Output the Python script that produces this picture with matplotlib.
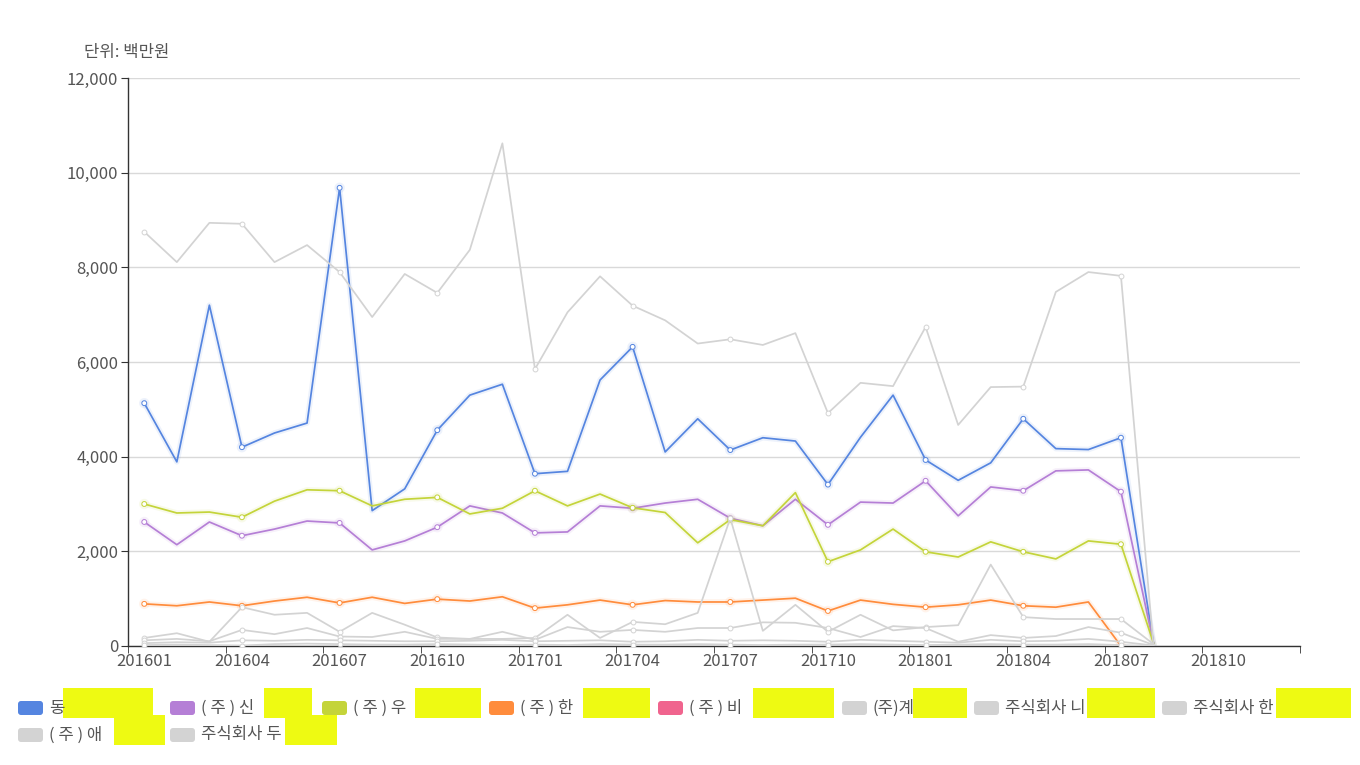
import numpy as np
import matplotlib.pyplot as plt
import matplotlib.patheffects as pe
from matplotlib.patches import FancyBboxPatch, Rectangle

plt.rcParams["font.family"] = ["Noto Sans CJK KR", "DejaVu Sans"]

# months shown on the category axis
months = [f"{y}{m:02d}" for y in (2016, 2017, 2018) for m in range(1, 13)]

names = ["동", "( 주 ) 신", "( 주 ) 우", "( 주 ) 한", "( 주 ) 비",
         "(주)계", "주식회사 니", "주식회사 한", "( 주 ) 애", "주식회사 두"]
colors = ["#5585e0", "#b57fd6", "#c4d43a", "#ff8c3c", "#f0648e",
          "#d3d3d3", "#d3d3d3", "#d3d3d3", "#d3d3d3", "#d3d3d3"]

dong = [5130, 3890, 7200, 4200, 4500, 4710, 9680, 2860, 3320, 4560, 5300, 5530,
        3640, 3690, 5620, 6320, 4100, 4800, 4140, 4400, 4330, 3410, 4410, 5300,
        3930, 3500, 3870, 4800, 4170, 4150, 4400, 60]
shin = [2620, 2140, 2620, 2330, 2470, 2640, 2600, 2030, 2220, 2510, 2960, 2810,
        2390, 2410, 2960, 2910, 3020, 3100, 2700, 2540, 3100, 2560, 3040, 3020,
        3490, 2750, 3360, 3280, 3700, 3720, 3260, 60]
woo = [3000, 2810, 2830, 2720, 3060, 3300, 3280, 2960, 3100, 3140, 2790, 2910,
       3280, 2960, 3210, 2920, 2820, 2180, 2670, 2540, 3240, 1780, 2030, 2470,
       1990, 1880, 2200, 1990, 1840, 2220, 2150, 60]
han = [890, 850, 930, 850, 950, 1030, 910, 1030, 900, 990, 950, 1040,
       800, 870, 970, 870, 960, 930, 930, 970, 1010, 740, 970, 880,
       820, 870, 970, 850, 820, 930, 0, None]
bi = []
gye = [8750, 8110, 8940, 8920, 8110, 8470, 7900, 6950, 7860, 7460, 8370, 10620,
       5850, 7050, 7810, 7190, 6880, 6390, 6480, 6360, 6610, 4920, 5560, 5490,
       6740, 4670, 5470, 5480, 7480, 7900, 7820, 0]
ni = [170, 270, 90, 820, 660, 700, 300, 700, 450, 180, 150, 150,
      170, 660, 170, 510, 460, 700, 2700, 320, 870, 300, 660, 330,
      400, 440, 1720, 610, 570, 570, 570, 40]
han2 = [120, 150, 100, 340, 250, 380, 200, 190, 300, 150, 150, 300,
        130, 400, 300, 340, 300, 380, 380, 500, 490, 380, 190, 420,
        380, 90, 230, 170, 210, 400, 280, 20]
ae = [60, 80, 70, 120, 110, 130, 120, 110, 100, 100, 110, 130,
      100, 110, 120, 90, 100, 130, 110, 120, 110, 90, 130, 110,
      90, 70, 130, 100, 110, 150, 90, 10]
du = [20, 30, 20, 10, 40, 50, 40, 30, 30, 40, 30, 20,
      30, 20, 40, 30, 30, 40, 30, 20, 30, 30, 40, 30,
      20, 30, 40, 30, 30, 40, 20, 0]

series = [dong, shin, woo, han, bi, gye, ni, han2, ae, du]

y_ticks = [0, 2000, 4000, 6000, 8000, 10000, 12000]

# legend layout (pixels): swatch left, row y, redaction box x-range
legend_pos = [(18, 708, 63, 153), (170, 708, 264, 312), (322, 708, 415, 481),
              (489, 708, 583, 650), (658, 708, 753, 834), (842, 708, 913, 967),
              (974, 708, 1087, 1155), (1162, 708, 1276, 1351),
              (18, 735, 114, 165), (170, 735, 285, 337)]

W, H = 1360, 765
fig = plt.figure(figsize=(W / 100, H / 100), dpi=100)
ax = fig.add_axes([128 / W, 1 - 646 / H, (1300 - 128) / W, (646 - 78) / H])

for vals, col in zip(series, colors):
    if not vals:
        continue
    y = np.array([np.nan if v is None else v for v in vals], dtype=float)
    x = np.arange(len(y))
    effects = None
    if col != "#d3d3d3":
        effects = [pe.Stroke(linewidth=4, foreground=col, alpha=0.1), pe.Normal()]
    ax.plot(x, y, color=col, lw=1.25, marker="o", markevery=slice(0, None, 3),
            markersize=3.5, markerfacecolor="white", markeredgecolor=col,
            markeredgewidth=0.7, path_effects=effects, zorder=3)

ax.set_xlim(-0.5, len(months) - 0.5)
ax.set_ylim(0, 12000)
ax.set_yticks(y_ticks)
ax.set_yticklabels([f"{v:,}" for v in y_ticks])
ax.set_xticks(np.arange(0, len(months), 3))
ax.set_xticklabels(months[::3])
ax.set_xticks(np.arange(-0.5, len(months), 3), minor=True)
ax.tick_params(axis="x", which="major", length=0, pad=5, labelsize=12, colors="#555")
ax.tick_params(axis="x", which="minor", length=5, color="#333")
ax.tick_params(axis="y", length=5, color="#333", labelsize=12, labelcolor="#555", pad=2)
ax.yaxis.grid(True, color="#d9d9d9", lw=1)
ax.set_axisbelow(True)
for s in ["top", "right"]:
    ax.spines[s].set_visible(False)
for s in ["left", "bottom"]:
    ax.spines[s].set_color("#333")
    ax.spines[s].set_linewidth(1)

fig.text(84 / W, 1 - 53 / H, "단위: 백만원", fontsize=12, color="#555", va="center")

# legend drawn in pixel space
lg = fig.add_axes([0, 0, 1, 1])
lg.set_xlim(0, W)
lg.set_ylim(H, 0)
lg.axis("off")
for name, col, (sx, ry, bx0, bx1) in zip(names, colors, legend_pos):
    lg.add_patch(FancyBboxPatch((sx, ry - 7), 25, 14,
                                boxstyle="round,pad=0,rounding_size=3",
                                fc=col, ec="none"))
    lg.text(sx + 31, ry, name, fontsize=12, color="#555", va="center", ha="left")
    lg.add_patch(Rectangle((bx0, ry - 20), bx1 - bx0, 30, fc="#eefa12", ec="none"))

plt.savefig("out.png", dpi=100)
plt.close()
